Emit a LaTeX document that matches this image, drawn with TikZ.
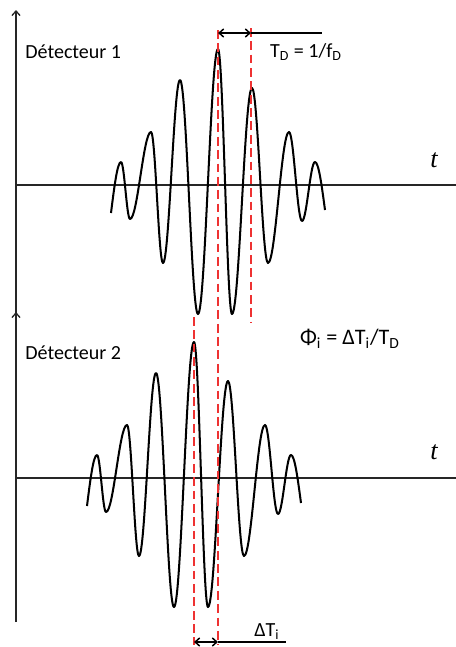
\documentclass[tikz,border=0pt]{standalone}
\usepackage{fontspec}
\setmainfont{Carlito}
\newfontfamily\timefont{Liberation Serif}
\usetikzlibrary{arrows.meta}
\tikzset{>={Straight Barb[length=2.6pt,width=4.6pt]}}
\definecolor{mydashred}{RGB}{238,50,50}
\colorlet{myaxis}{black!85}

\tikzset{
  axis/.style={line width=0.75pt, myaxis},
  wave/.style={line width=1.15pt, line join=round},
  reddash/.style={mydashred, line width=1.1pt, dash pattern=on 5pt off 2.6pt},
  spanline/.style={line width=0.85pt},
  lbl/.style={font=\fontsize{11.4}{13}\selectfont, inner sep=0pt},
  biglbl/.style={font=\fontsize{12.6}{15}\selectfont, inner sep=0pt},
  tlbl/.style={font=\timefont\itshape\fontsize{15}{17}\selectfont, inner sep=0pt},
  packet/.pic={
    \draw[wave] (-107,28) sin (-97,-23) cos (-92.5,5.5) sin (-88,34)
      cos (-77.5,-9.5) sin (-67,-53) cos (-61,12.5) sin (-55,78)
      cos (-46.5,-13.5) sin (-38,-105) cos (-29,12) sin (-20,129)
      cos (-10,-3.5) sin (0,-136) cos (7,-3.5) sin (14,129)
      cos (24,16) sin (34,-97) cos (42,-9.5) sin (50,78)
      cos (60.5,12.5) sin (71,-53) cos (77.5,-8.5) sin (84,36)
      cos (90.5,6.5) sin (97,-23) cos (107,25);
  }
}

\begin{document}
\begin{tikzpicture}[x=0.02cm, y=-0.02cm]
    \useasboundingbox (0,0) rectangle (456,647);

    \def\xa{218};
    \def\xb{194};
    \def\xc{251};
    \def\ya{185};
    \def\yb{478};

    % axes
    \draw[axis, ->] (16,335) -- (16,10);
    \draw[axis] (16,\ya) -- (456,\ya);
    \draw[axis, ->] (16,622) -- (16,312);
    \draw[axis] (16,\yb) -- (456,\yb);
    \node[tlbl] (t1) at (434,160) {t};
    \node[tlbl] (t2) at (434,452) {t};

    \pic at (\xa,\ya) {packet};
    \pic at (\xb,\yb) {packet};

    \coordinate (A1) at (\xa,30);
    \coordinate (A2) at (\xa,645);
    \coordinate (B1) at (\xc,28);
    \coordinate (B2) at (\xc,323);
    \coordinate (C1) at (\xb,317);
    \coordinate (C2) at (\xb,645);
    \draw[reddash] (A1) -- (A2);
    \draw[reddash] (B1) -- (B2);
    \draw[reddash] (C1) -- (C2);

    \coordinate (td1) at (\xa,33);
    \coordinate (td2) at (\xc,33);
    \coordinate (td3) at (322,33);
    \draw[spanline, <->] (td1) -- (td2);
    \draw[spanline] (td2) -- (td3);

    \coordinate (dt1) at (\xb,642);
    \coordinate (dt2) at (\xa,642);
    \coordinate (dt3) at (286,642);
    \draw[spanline, <->] (dt1) -- (dt2);
    \draw[spanline] (dt2) -- (dt3);

    \node[lbl, anchor=west] (det1) at (25,52) {Détecteur 1};
    \node[lbl, anchor=west] (det2) at (25,353) {Détecteur 2};
    \node[lbl] (td) at (306,52) {T\textsubscript{D} = 1/f\textsubscript{D}};
    \node[biglbl] (phi) at (350,339) {Φ\textsubscript{i} = ΔT\textsubscript{i}/T\textsubscript{D}};
    \node[lbl] (dti) at (267,632) {ΔT\textsubscript{i}};

\end{tikzpicture}
\end{document}
